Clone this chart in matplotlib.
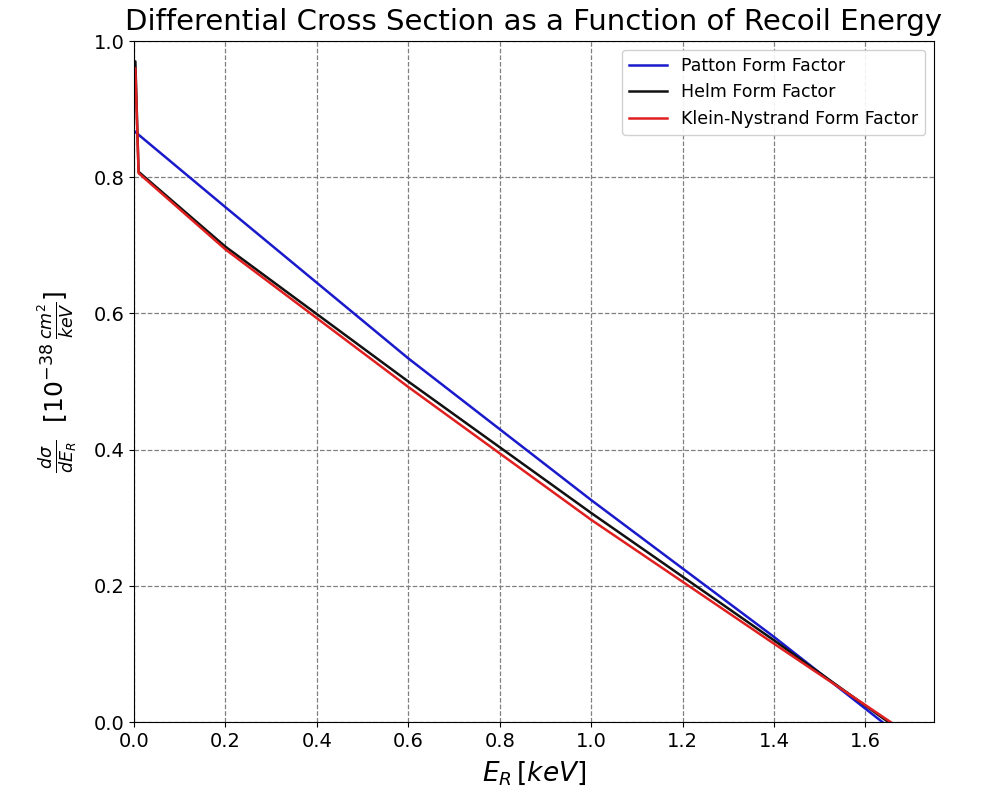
import matplotlib

matplotlib.use("Agg")

import matplotlib.pyplot as plt

# recoil energy [keV] and differential cross section [1e-38 cm^2/keV]
patton_e = [0.0, 0.2, 0.6, 1.0, 1.4, 1.637]
patton_xs = [0.868, 0.756, 0.534, 0.326, 0.125, 0.0]

helm_e = [0.0, 0.003, 0.01, 0.2, 0.6, 1.0, 1.4, 1.65]
helm_xs = [0.97, 0.97, 0.808, 0.698, 0.500, 0.307, 0.120, 0.0]

kn_e = [0.0, 0.003, 0.01, 0.2, 0.6, 1.0, 1.4, 1.655]
kn_xs = [0.96, 0.96, 0.806, 0.694, 0.492, 0.297, 0.115, 0.0]

fig = plt.figure(figsize=(10.03, 8.01), dpi=100)
ax = fig.add_axes([0.1336, 0.0986, 0.7976, 0.8502])

ax.plot(patton_e, patton_xs, color="#1a1acc", linewidth=1.8, label="Patton Form Factor")
ax.plot(helm_e, helm_xs, color="#111111", linewidth=1.8, label="Helm Form Factor")
ax.plot(kn_e, kn_xs, color="#e02020", linewidth=1.8, label="Klein-Nystrand Form Factor")

ax.set_xlim(0, 1.75)
ax.set_ylim(0, 1.0)
ax.set_xticks([0.0, 0.2, 0.4, 0.6, 0.8, 1.0, 1.2, 1.4, 1.6])
ax.set_yticks([0.0, 0.2, 0.4, 0.6, 0.8, 1.0])
ax.tick_params(labelsize=14)
ax.grid(True, linestyle="--", color="#808080", linewidth=0.9)

ax.set_title("Differential Cross Section as a Function of Recoil Energy", fontsize=21, pad=8, x=0.5)
ax.set_xlabel(r"$E_R\,[keV]$", fontsize=19, labelpad=6)
ax.set_ylabel(r"$\frac{d\sigma}{dE_R}\ \ [10^{-38}\,\frac{cm^2}{keV}]$", fontsize=18, labelpad=10)

ax.legend(loc="upper right", fontsize=12.5, framealpha=0.9, edgecolor="#cccccc", handlelength=2.2)

fig.savefig("out.png", dpi=100)
